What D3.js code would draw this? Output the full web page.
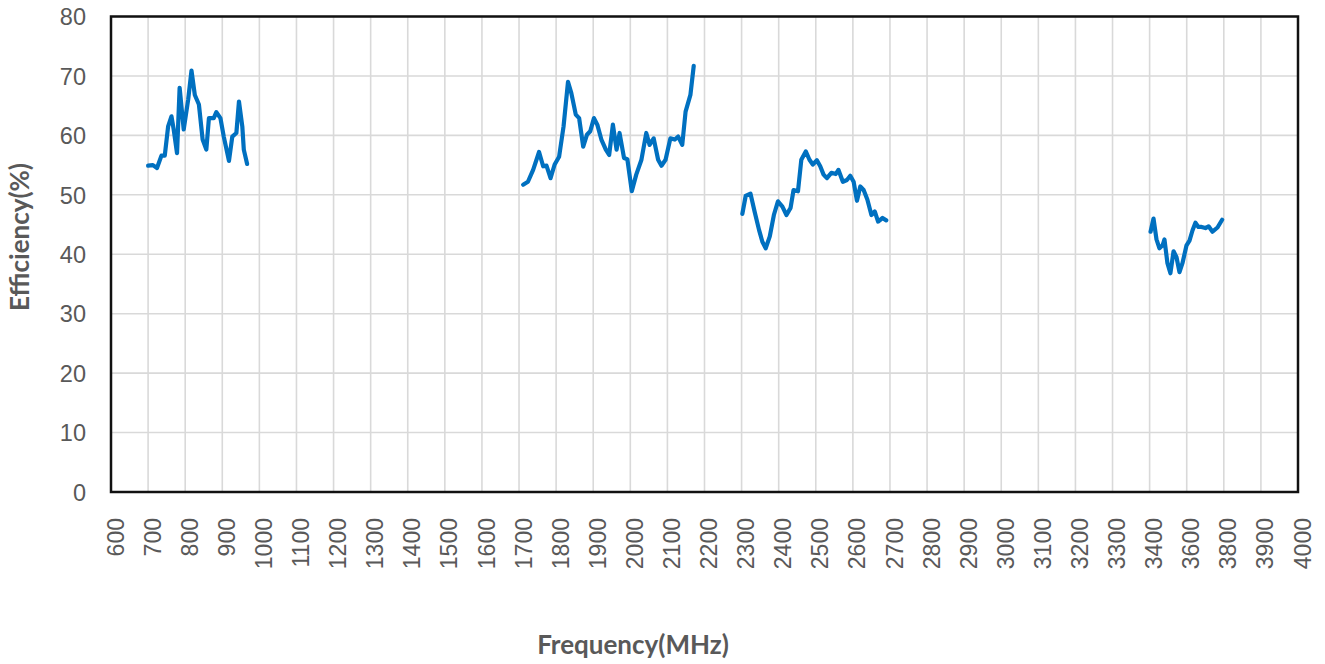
<!DOCTYPE html>
<html>
<head>
<meta charset="utf-8">
<script src="https://cdn.jsdelivr.net/npm/d3@7"></script>
<style>
  body { margin: 0; background: #fff; }
</style>
</head>
<body>
<script>

// data

const xTicks = [600, 700, 800, 900, 1000, 1100, 1200, 1300, 1400, 1500, 1600, 1700,
  1800, 1900, 2000, 2100, 2200, 2300, 2400, 2500, 2600, 2700, 2800, 2900, 3000,
  3100, 3200, 3300, 3400, 3600, 3800, 3900, 4000];
const yTicks = [0, 10, 20, 30, 40, 50, 60, 70, 80];

const band1Freq = [700, 713, 724, 736, 745, 754, 763, 769, 778, 785, 796, 808, 817, 826,
  837, 847, 857, 864, 877, 884, 895, 904, 918, 927, 938, 945, 954, 958, 967];
const band1Eff = [54.9, 55.0, 54.5, 56.6, 56.6, 61.5, 63.2, 61.0, 57.0, 68.0, 61.0, 66.0, 70.9, 66.8,
  65.2, 59.3, 57.6, 62.9, 62.9, 63.9, 62.9, 59.8, 55.7, 59.8, 60.4, 65.7, 61.5, 57.6, 55.2];

const band2Freq = [1711, 1724, 1738, 1754, 1765, 1774, 1785, 1796, 1808, 1820, 1832, 1841, 1853,
  1862, 1873, 1883, 1892, 1902, 1911, 1922, 1934, 1943, 1953, 1963, 1971, 1983, 1992, 2004,
  2016, 2030, 2043, 2052, 2063, 2075, 2084, 2095, 2108, 2120, 2129, 2140, 2149, 2162, 2171];
const band2Eff = [51.7, 52.2, 54.2, 57.2, 54.8, 54.9, 52.8, 55.1, 56.4, 61.5, 69.0, 67.1, 63.5,
  62.9, 58.1, 60.1, 60.7, 62.9, 61.8, 59.3, 57.6, 56.7, 61.8, 57.6, 60.4, 56.2, 56.0, 50.6,
  53.4, 55.9, 60.4, 58.4, 59.5, 55.9, 54.9, 55.9, 59.5, 59.3, 59.8, 58.4, 64.0, 66.8, 71.7];

const band3Freq = [2302, 2311, 2324, 2335, 2347, 2356, 2365, 2376, 2387, 2398, 2410, 2421, 2432,
  2440, 2452, 2461, 2473, 2483, 2492, 2503, 2512, 2521, 2530, 2542, 2554, 2561, 2573, 2584,
  2593, 2602, 2611, 2620, 2629, 2639, 2650, 2659, 2668, 2680, 2690];
const band3Eff = [46.8, 49.8, 50.2, 47.2, 44.1, 42.1, 41.0, 43.0, 46.6, 48.9, 48.0, 46.6, 47.8,
  50.8, 50.6, 55.9, 57.3, 55.9, 55.1, 55.8, 54.8, 53.4, 52.8, 53.7, 53.5, 54.2, 52.2, 52.5,
  53.2, 52.2, 49.0, 51.4, 50.8, 49.2, 46.6, 47.2, 45.5, 46.1, 45.7];

const band4Freq = [3405, 3421, 3437, 3453, 3470, 3480, 3496, 3512, 3529, 3545, 3561, 3577,
  3599, 3615, 3631, 3647, 3663, 3680, 3701, 3718, 3739, 3766, 3791];
const band4Eff = [43.8, 46.0, 42.5, 41.0, 41.5, 42.5, 38.5, 36.8, 40.5, 39.5, 37.0, 38.5,
  41.5, 42.3, 44.0, 45.3, 44.6, 44.6, 44.4, 44.7, 43.8, 44.5, 45.8];

const bands = [[band1Freq, band1Eff], [band2Freq, band2Eff],
  [band3Freq, band3Eff], [band4Freq, band4Eff]];

// layout

const w = 1325;
const h = 664;
const margin = {top: 16.5, right: 27, bottom: 172, left: 111};
const innerWidth = w - margin.left - margin.right;
const innerHeight = h - margin.top - margin.bottom;

// the x axis is evenly spaced by label, not by MHz (3500 and 3700 are skipped)
const xPoint = d3.scalePoint()
    .domain(xTicks)
    .range([0, innerWidth]);

const xScale = d3.scaleLinear()
    .domain(xTicks)
    .range(xTicks.map(d => xPoint(d)));

const yScale = d3.scaleLinear()
    .domain([0, 80])
    .range([innerHeight, 0]);

const svg = d3.select("body")
  .append("svg")
    .attr("width", w)
    .attr("height", h);

svg.append("rect")
    .attr("width", w)
    .attr("height", h)
    .attr("fill", "#fff");

const plot = svg.append("g")
    .attr("transform", `translate(${margin.left}, ${margin.top})`);

// grid

plot.append("g")
  .selectAll("line")
  .data(xTicks)
  .enter().append("line")
    .attr("x1", d => xScale(d))
    .attr("x2", d => xScale(d))
    .attr("y1", 0)
    .attr("y2", innerHeight)
    .attr("stroke", "#d9d9d9")
    .attr("stroke-width", 1.6);

plot.append("g")
  .selectAll("line")
  .data(yTicks)
  .enter().append("line")
    .attr("x1", 0)
    .attr("x2", innerWidth)
    .attr("y1", d => yScale(d))
    .attr("y2", d => yScale(d))
    .attr("stroke", "#d9d9d9")
    .attr("stroke-width", 1.6);

// curves

const line = d3.line()
    .x(d => xScale(d[0]))
    .y(d => yScale(d[1]));

plot.append("g")
  .selectAll("path")
  .data(bands.map(b => b[0].map((f, i) => [f, b[1][i]])))
  .enter().append("path")
    .attr("d", line)
    .attr("fill", "none")
    .attr("stroke", "#0070c0")
    .attr("stroke-width", 4.2)
    .attr("stroke-linejoin", "round")
    .attr("stroke-linecap", "round");

// frame

plot.append("rect")
    .attr("x", 0)
    .attr("y", 0)
    .attr("width", innerWidth)
    .attr("height", innerHeight)
    .attr("fill", "none")
    .attr("stroke", "#111")
    .attr("stroke-width", 2.5);

// axes

const xAxis = d3.axisBottom(xScale)
    .tickValues(xTicks)
    .tickFormat(d => d)
    .tickSize(0);

const yAxis = d3.axisLeft(yScale)
    .tickValues(yTicks)
    .tickSize(0);

const gx = plot.append("g")
    .attr("transform", `translate(0, ${innerHeight})`)
    .call(xAxis);
gx.select(".domain").remove();
gx.selectAll("text")
    .attr("transform", "translate(4, 26) rotate(-90)")
    .attr("x", 0)
    .attr("y", 0)
    .attr("dy", "0.35em")
    .attr("text-anchor", "end")
    .attr("fill", "#595959")
    .style("font-family", "'Liberation Sans', Arial, sans-serif")
    .style("font-size", "23px");

const gy = plot.append("g")
    .call(yAxis);
gy.select(".domain").remove();
gy.selectAll("text")
    .attr("x", -25)
    .attr("dy", "0.35em")
    .attr("fill", "#595959")
    .style("font-family", "'Liberation Sans', Arial, sans-serif")
    .style("font-size", "23.5px");

// titles

svg.append("text")
    .attr("x", 633)
    .attr("y", 654)
    .attr("text-anchor", "middle")
    .attr("fill", "#595959")
    .style("font-family", "Lato, 'Open Sans', sans-serif")
    .style("font-weight", "bold")
    .style("font-size", "26px")
    .text("Frequency(MHz)");

svg.append("text")
    .attr("transform", "translate(29, 237) rotate(-90)")
    .attr("text-anchor", "middle")
    .attr("fill", "#595959")
    .style("font-family", "Lato, 'Open Sans', sans-serif")
    .style("font-weight", "bold")
    .style("font-size", "26px")
    .text("Efficiency(%)");

</script>
</body>
</html>
